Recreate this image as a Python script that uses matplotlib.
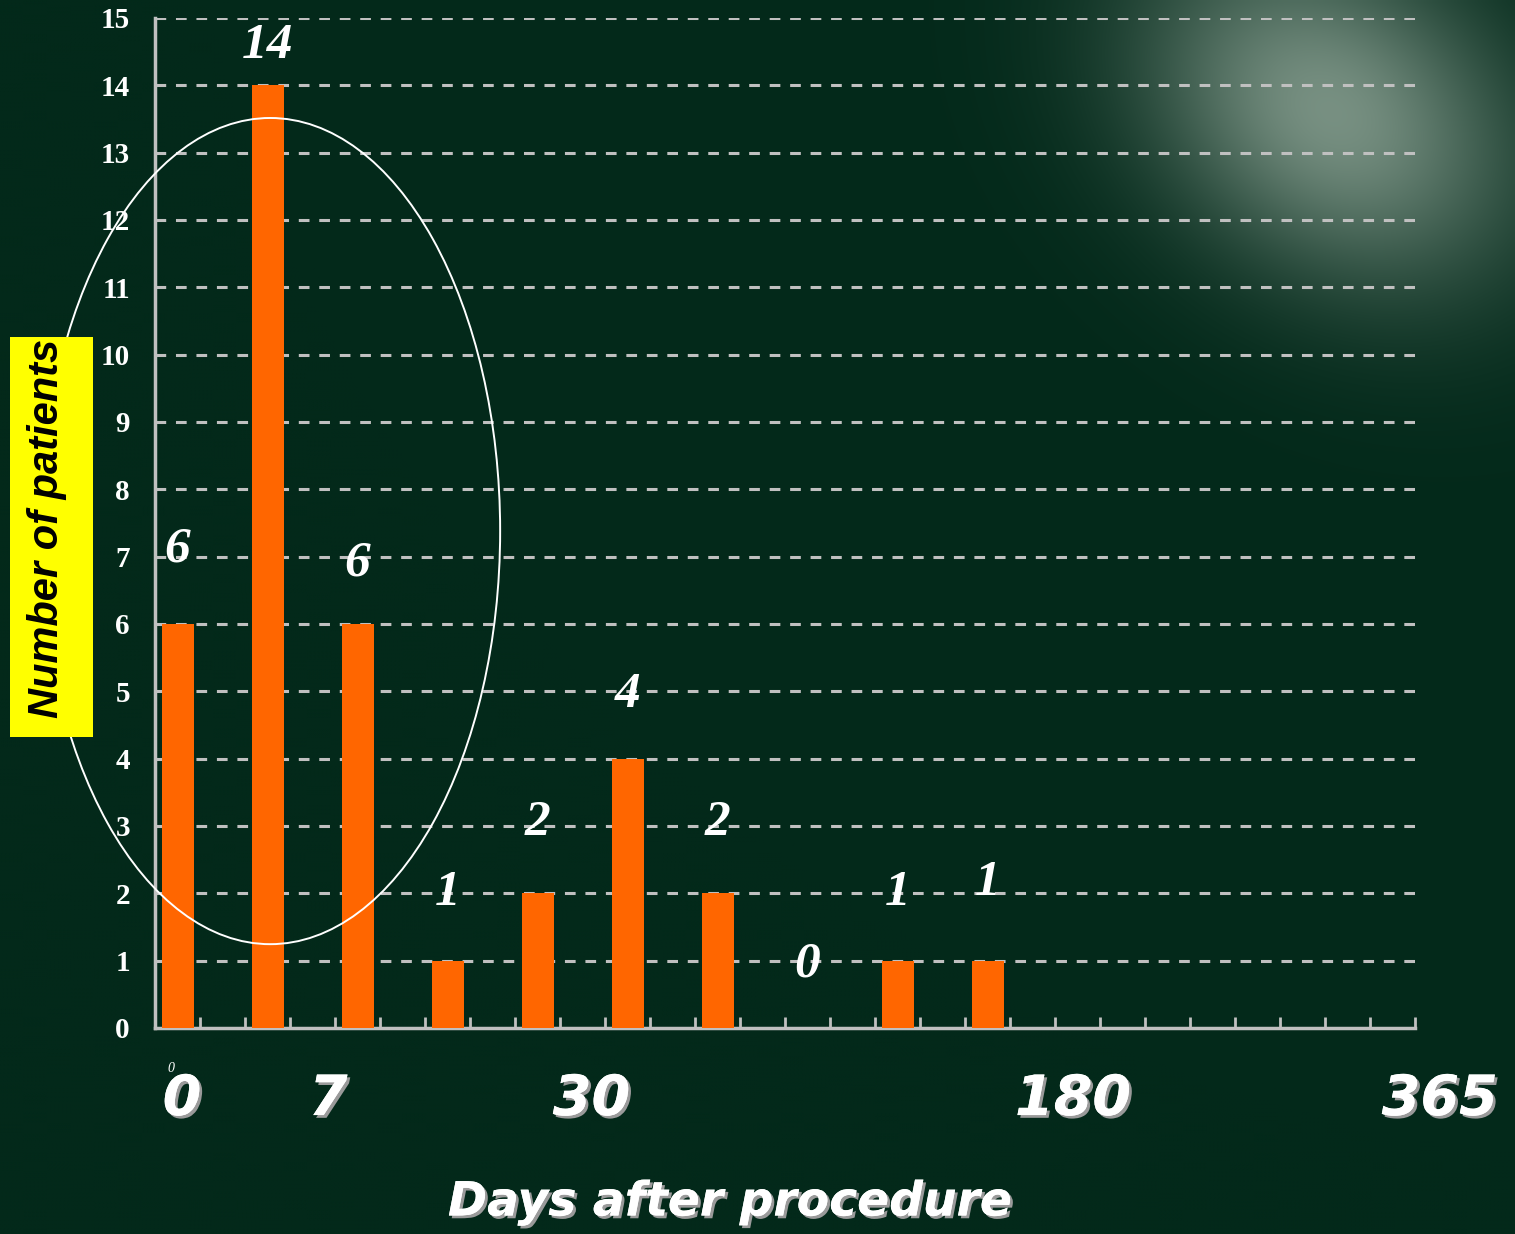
import numpy as np
import matplotlib
matplotlib.use("Agg")
import matplotlib.pyplot as plt
from matplotlib.patches import Ellipse, Rectangle
import matplotlib.patheffects as pe

# ---- data ----
bar_slots = [0, 2, 4, 6, 8, 10, 12, 14, 16, 18]      # category slot index (28 slots on axis)
patients = [6, 14, 6, 1, 2, 4, 2, 0, 1, 1]
n_slots = 28
y_ticks = list(range(0, 16))
day_labels = ["0", "7", "30", "180", "365"]
day_label_x = [0.6, 3.85, 9.7, 20.4, 28.55]           # in slot units
label_offsets = [1.1, 0.58, 0.9, 1.0, 1.05, 0.95, 1.05, 0.95, 1.0, 1.15]  # value units above bar

BG = "#03291a"
ORANGE = "#ff6600"
GRID = "#c0c0c0"

W, H = 1515, 1234
fig = plt.figure(figsize=(W / 100, H / 100), dpi=100)
fig.patch.set_facecolor(BG)

# background glow (upper right)
bg = fig.add_axes([0, 0, 1, 1], zorder=-10)
bg.set_axis_off()
yy, xx = np.mgrid[0:H:4, 0:W:4]
u = (xx - 1330) * 0.8 + (yy - 110) * 0.6
v = -(xx - 1330) * 0.6 + (yy - 110) * 0.8
r = np.sqrt((u / 230.0) ** 2 + (v / 170.0) ** 2)
glow = 0.85 * np.exp(-r**2 * 1.3)
base = np.array([3, 41, 26]) / 255.0
light = np.array([140, 162, 148]) / 255.0
img = base[None, None, :] * (1 - glow[..., None]) + light[None, None, :] * glow[..., None]
bg.imshow(img, extent=[0, W, H, 0], aspect="auto", interpolation="bilinear")
bg.set_xlim(0, W)
bg.set_ylim(H, 0)

ax = fig.add_axes([155 / W, 1 - 1028 / H, (1415 - 155) / W, (1028 - 18) / H])
ax.set_facecolor("none")

x = np.array(bar_slots) + 0.5
ax.bar(x, patients, width=32 / 45, color=ORANGE, zorder=3)

ax.set_xlim(0, n_slots)
ax.set_ylim(0, 15)
ax.set_yticks(y_ticks)
ax.set_yticklabels([str(v) for v in y_ticks], fontfamily="Liberation Serif",
                   fontweight="bold", fontsize=21, color="white")
ax.tick_params(axis="y", length=0, pad=18)
ax.set_xticks(np.arange(1, n_slots + 1))
ax.set_xticklabels([])
ax.tick_params(axis="x", direction="in", length=8, width=2, color=GRID)

for s in ["top", "right"]:
    ax.spines[s].set_visible(False)
for s in ["left", "bottom"]:
    ax.spines[s].set_color(GRID)
    ax.spines[s].set_linewidth(2.5)

for v in y_ticks[1:]:
    ax.axhline(v, color=GRID, lw=2.2, ls=(0, (3.5, 3.2)), zorder=1)

# bar value labels
for xi, v, off in zip(x, patients, label_offsets):
    ax.text(xi, v + off, str(v), ha="center", va="center", color="white",
            fontfamily="Liberation Serif", fontstyle="italic", fontweight="bold",
            fontsize=37, zorder=5)

# ellipse highlight
ell = Ellipse((2.56, 7.38), 10.22, 12.27, fill=False, edgecolor="white", lw=1.4,
              clip_on=False, zorder=6)
ax.add_patch(ell)

# day labels
shadow = [pe.withSimplePatchShadow(offset=(2, -2), shadow_rgbFace="#9a9a9a", alpha=1.0),
          pe.Normal()]
for t, xp in zip(day_labels, day_label_x):
    ax.text(xp, -1.07, t, ha="center", va="center", color="white",
            fontfamily="DejaVu Sans", fontstyle="oblique", fontweight="bold",
            fontsize=40, clip_on=False, path_effects=shadow)
ax.text(0.36, -0.6, "0", ha="center", va="center", color="white",
        fontfamily="Liberation Serif", fontstyle="italic", fontsize=10, clip_on=False)

fig.text(730 / W, 1 - 1203 / H, "Days after procedure", ha="center", va="center",
         color="white", fontfamily="DejaVu Sans", fontstyle="oblique",
         fontweight="bold", fontsize=34, path_effects=shadow)

# y label with yellow box
fig.patches.append(Rectangle((10 / W, 1 - 737 / H), 83 / W, 400 / H,
                             transform=fig.transFigure, facecolor="#ffff00",
                             edgecolor="none", zorder=0))
fig.text(47 / W, 1 - 528 / H, "Number of patients", rotation=90, ha="center",
         va="center", color="black", fontfamily="Liberation Sans",
         fontstyle="italic", fontweight="bold", fontsize=30)

fig.savefig("out.png", dpi=100, facecolor=BG)
